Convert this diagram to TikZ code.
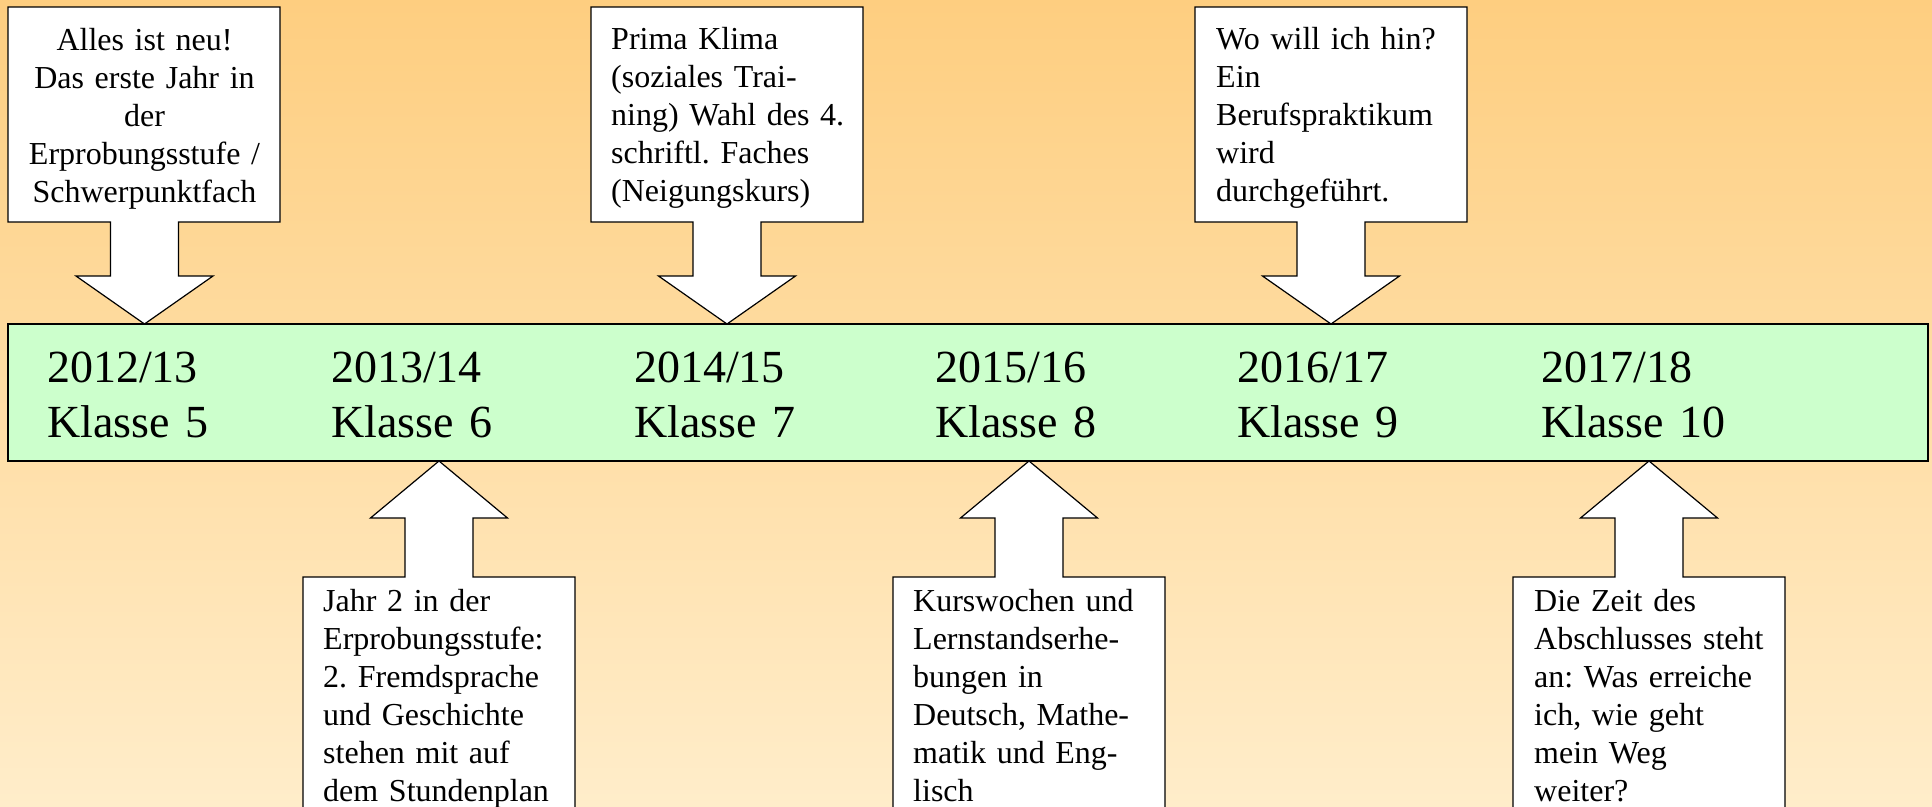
\documentclass[tikz,border=0pt]{standalone}
\usepackage{fontspec}
\setmainfont{Liberation Serif}
\frenchspacing
\definecolor{bgtop}{RGB}{254,206,128}
\definecolor{bgbot}{RGB}{255,237,202}
\definecolor{barfill}{RGB}{204,255,204}
\begin{document}
\begin{tikzpicture}[x=1pt,y=-1pt,
  callout/.style={draw=black,fill=white,line width=1.2pt,line join=miter},
  bar/.style={draw=black,fill=barfill,line width=1.2pt},
  ctext/.style={inner sep=0pt,text width=262pt,align=left,anchor=base west,font=\fontsize{32}{38}\selectfont},
  ctextc/.style={inner sep=0pt,text width=262pt,align=center,anchor=base,font=\fontsize{32}{38}\selectfont},
  ytext/.style={inner sep=0pt,text width=260pt,align=left,anchor=base west,font=\fontsize{46}{55}\selectfont}]
\useasboundingbox (0,0) rectangle (1932,806);
\clip (0,0) rectangle (1932,806);
\shade[top color=bgtop,bottom color=bgbot] (0,0) rectangle (1932,806);

% timeline bar
\draw[bar] (8,324) rectangle (1928,461);
\node[ytext] (y1) at (47,382) {2012/13\\Klasse 5};
\node[ytext] (y2) at (331,382) {2013/14\\Klasse 6};
\node[ytext] (y3) at (634,382) {2014/15\\Klasse 7};
\node[ytext] (y4) at (935,382) {2015/16\\Klasse 8};
\node[ytext] (y5) at (1237,382) {2016/17\\Klasse 9};
\node[ytext] (y6) at (1541,382) {2017/18\\Klasse 10};

% top callouts (pointing down)
\foreach \l/\c in {8/144.5, 591/727, 1195/1331}{
  \draw[callout] (\l,7) -- ++(272,0) -- ++(0,215) -- (\c+34,222) -- (\c+34,276)
    -- (\c+68.5,276) -- (\c,324) -- (\c-68.5,276) -- (\c-34,276) -- (\c-34,222)
    -- (\l,222) -- cycle;
}
% bottom callouts (pointing up)
\foreach \l/\c in {303/439, 893/1029, 1513/1649}{
  \draw[callout] (\c,461) -- (\c+68.5,518) -- (\c+34,518) -- (\c+34,577)
    -- (\l+272,577) -- (\l+272,820) -- (\l,820) -- (\l,577) -- (\c-34,577)
    -- (\c-34,518) -- (\c-68.5,518) -- cycle;
}

\node[ctextc] (t1) at (144.5,50) {Alles ist neu!\\Das erste Jahr in\\der\\Erprobungsstufe /\\Schwerpunktfach};
\node[ctext] (t3) at (611,49) {Prima Klima\\(soziales Trai-\\ning) Wahl des 4.\\schriftl. Faches\\(Neigungskurs)};
\node[ctext] (t5) at (1216,49) {Wo will ich hin?\\Ein\\Berufspraktikum\\wird\\durchgeführt.};
\node[ctext] (t2) at (323,611) {Jahr 2 in der\\Erprobungsstufe:\\2. Fremdsprache\\und Geschichte\\stehen mit auf\\dem Stundenplan};
\node[ctext] (t4) at (913,611) {Kurswochen und\\Lernstandserhe-\\bungen in\\Deutsch, Mathe-\\matik und Eng-\\lisch};
\node[ctext] (t6) at (1534,611) {Die Zeit des\\Abschlusses steht\\an: Was erreiche\\ich, wie geht\\mein Weg\\weiter?};
\end{tikzpicture}
\end{document}
